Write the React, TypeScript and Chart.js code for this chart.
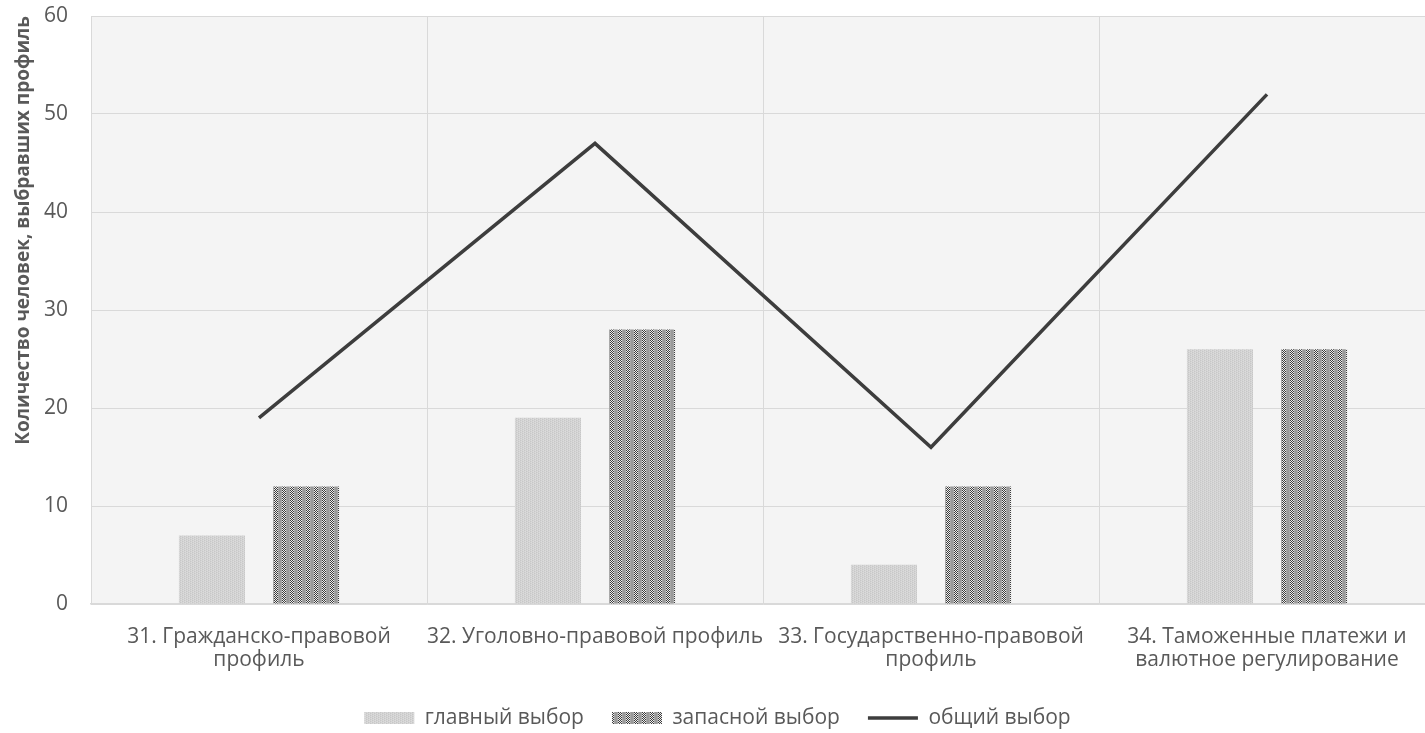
import React, { useEffect, useRef } from "react";
import { Chart, registerables } from "chart.js";

Chart.register(...registerables);

const categories: string[][] = [
  ["31. Гражданско-правовой", "профиль"],
  ["32. Уголовно-правовой профиль"],
  ["33. Государственно-правовой", "профиль"],
  ["34. Таможенные платежи и", "валютное регулирование"],
];
const mainChoice = [7, 19, 4, 26];
const backupChoice = [12, 28, 12, 26];
const totalChoice = [19, 47, 16, 52];
const yTicks = [0, 10, 20, 30, 40, 50, 60];

const TEXT = "#595959";
const GRID = "#d9d9d9";
const FONT = "'Open Sans', 'Noto Sans', sans-serif";

function makePattern(kind: "light" | "dark"): CanvasPattern | string {
  const c = document.createElement("canvas");
  if (kind === "light") {
    c.width = 4;
    c.height = 2;
    const x = c.getContext("2d")!;
    x.fillStyle = "#d3d3d3";
    x.fillRect(0, 0, 4, 2);
    x.fillStyle = "#c7c7c7";
    x.fillRect(0, 0, 1, 1);
    x.fillRect(2, 1, 1, 1);
    x.fillStyle = "#dcdcdc";
    x.fillRect(1, 1, 1, 1);
    x.fillRect(3, 0, 1, 1);
  } else {
    c.width = 8;
    c.height = 2;
    const x = c.getContext("2d")!;
    x.fillStyle = "#9a9a9a";
    x.fillRect(0, 0, 8, 2);
    x.fillStyle = "#a8a8a8";
    x.fillRect(1, 0, 1, 2);
    x.fillRect(6, 0, 1, 2);
    for (let col = 2; col < 6; col++) {
      for (let row = 0; row < 2; row++) {
        x.fillStyle = (col + row) % 2 === 0 ? "#3c3c3c" : "#eeeeee";
        x.fillRect(col, row, 1, 1);
      }
    }
  }
  const ctx = c.getContext("2d")!;
  return ctx.createPattern(c, "repeat") || "#999";
}

const plotBg = {
  id: "plotBg",
  beforeDraw(chart: any) {
    const { ctx, chartArea } = chart;
    ctx.save();
    ctx.fillStyle = "#f4f4f4";
    ctx.fillRect(chartArea.left, chartArea.top, chartArea.right - chartArea.left, chartArea.bottom - chartArea.top);
    ctx.restore();
  },
};

export default function App() {
  const ref = useRef<HTMLCanvasElement | null>(null);

  useEffect(() => {
    if (!ref.current) return;
    const light = makePattern("light");
    const dark = makePattern("dark");
    const chart = new Chart(ref.current, {
      type: "bar",
      data: {
        labels: categories,
        datasets: [
          {
            type: "bar",
            label: "главный выбор",
            data: mainChoice,
            backgroundColor: light as any,
            borderWidth: 0,
            order: 1,
            pointStyle: "rect",
            categoryPercentage: 0.56,
            barPercentage: 0.702,
          },
          {
            type: "bar",
            label: "запасной выбор",
            data: backupChoice,
            backgroundColor: dark as any,
            borderWidth: 0,
            order: 1,
            pointStyle: "rect",
            categoryPercentage: 0.56,
            barPercentage: 0.702,
          },
          {
            type: "line",
            label: "общий выбор",
            data: totalChoice,
            borderColor: "#3d3d3d",
            backgroundColor: "#3d3d3d",
            borderWidth: 3.5,
            pointRadius: 0,
            tension: 0,
            order: 0,
            pointStyle: "line",
          } as any,
        ],
      },
      options: {
        responsive: false,
        animation: false,
        layout: { padding: { left: 0, right: 0, top: 16, bottom: -5.5 } },
        plugins: {
          tooltip: { enabled: false },
          legend: {
            position: "bottom",
            labels: {
              usePointStyle: true,
              pointStyleWidth: 50,
              boxWidth: 50,
              boxHeight: 12,
              padding: 28,
              color: TEXT,
              font: { family: FONT, size: 21 },
              sort: (a: any, b: any) => a.datasetIndex - b.datasetIndex,
            },
          },
        },
        scales: {
          x: {
            afterFit: (scale: any) => {
              scale.height = 75.5;
            },
            grid: { color: GRID, lineWidth: 1, drawTicks: false, offset: true },
            border: { color: GRID, width: 1.5 },
            ticks: {
              color: TEXT,
              font: { family: FONT, size: 21, lineHeight: 1.12 },
              padding: 21,
              maxRotation: 0,
              autoSkip: false,
            },
          },
          y: {
            min: 0,
            max: 60,
            afterBuildTicks: (scale: any) => {
              scale.ticks = yTicks.map((v) => ({ value: v }));
            },
            afterFit: (scale: any) => {
              scale.width = 91;
              scale.paddingTop = 0;
              scale.paddingBottom = 0;
            },
            grid: { color: GRID, lineWidth: 1, drawTicks: false },
            border: { color: GRID, width: 1 },
            ticks: {
              color: TEXT,
              font: { family: FONT, size: 21 },
              padding: 23,
            },
            title: {
              display: true,
              align: "end",
              text: "Количество человек, выбравших профиль",
              color: TEXT,
              font: { family: FONT, size: 19, weight: "bold" },
              padding: { top: 12, bottom: 0 },
            },
          },
        },
      },
      plugins: [plotBg],
    } as any);
    return () => chart.destroy();
  }, []);

  return (
    <div style={{ position: "fixed", left: 0, top: 0, width: 1435, height: 733, background: "#fff" }}>
      <canvas ref={ref} width={1435} height={733} style={{ display: "block", width: 1435, height: 733 }} />
    </div>
  );
}
